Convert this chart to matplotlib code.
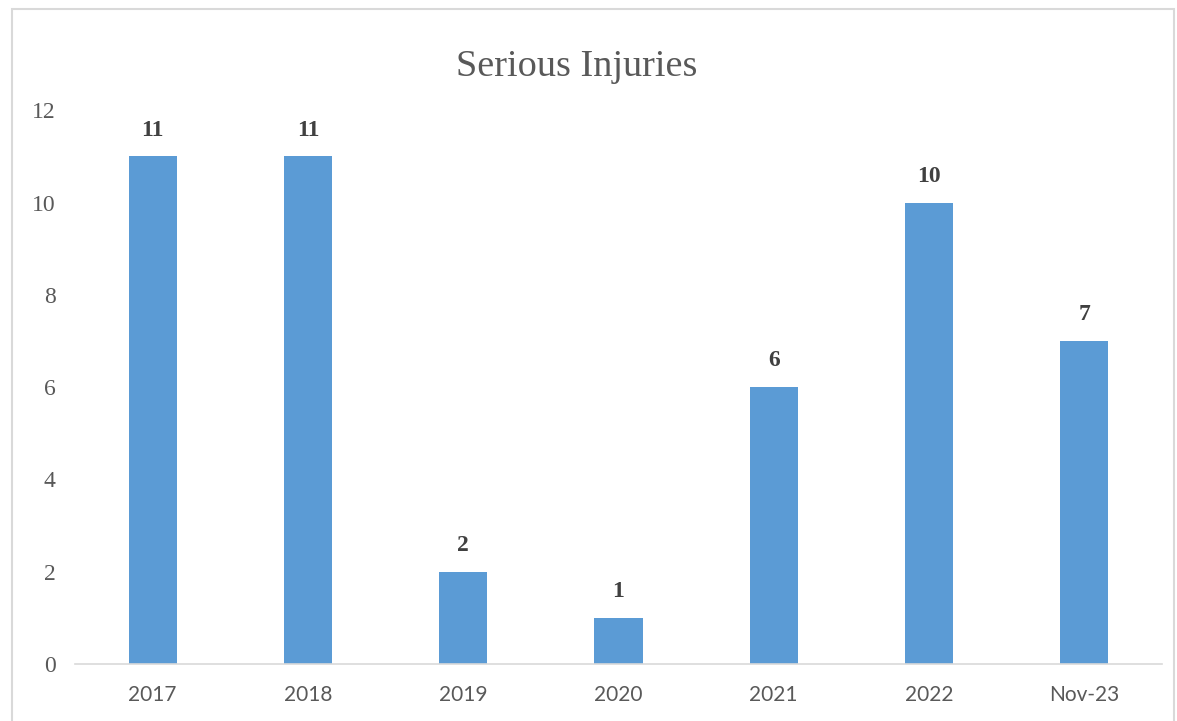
import matplotlib.pyplot as plt
from matplotlib.patches import Rectangle

# Données
categories = ['2017', '2018', '2019', '2020', '2021', '2022', 'Nov-23']
valeurs = [11, 11, 2, 1, 6, 10, 7]

fig = plt.figure(figsize=(11.77, 7.21), dpi=100)
ax = fig.add_axes([0.0637, 0.079, 0.9235, 0.768])

x = range(len(categories))
ax.bar(x, valeurs, width=0.31, color='#5B9BD5')

# Étiquettes de valeurs
for xi, v in zip(x, valeurs):
    ax.text(xi, v + 0.34, str(v), ha='center', va='bottom', fontsize=17,
            fontweight='bold', family='Liberation Serif', color='#404040')

ax.set_xlim(-0.5, len(categories) - 0.5)
ax.set_ylim(0, 12)
ax.set_yticks(range(0, 13, 2))
ax.set_xticks(list(x))
ax.set_xticklabels(categories, family='Lato', fontsize=15, color='#595959')
for lab in ax.get_yticklabels():
    lab.set_family('Liberation Serif')
    lab.set_fontsize(17)
    lab.set_color('#595959')
ax.tick_params(axis='both', length=0)
ax.tick_params(axis='y', pad=14)
ax.tick_params(axis='x', pad=15)

for s in ['top', 'right', 'left']:
    ax.spines[s].set_visible(False)
ax.spines['bottom'].set_color('#D9D9D9')
ax.spines['bottom'].set_linewidth(1.2)

fig.text(0.49, 0.908, 'Serious Injuries', ha='center', va='center',
         fontsize=27.5, family='Liberation Serif', color='#595959')

# Cadre du graphique
fig.patches.append(Rectangle((12 / 1177, -0.01), 1162 / 1177, 1 - 9 / 721 + 0.01,
                             transform=fig.transFigure, fill=False,
                             edgecolor='#D9D9D9', linewidth=1.5))

fig.savefig('out.png', dpi=100)
